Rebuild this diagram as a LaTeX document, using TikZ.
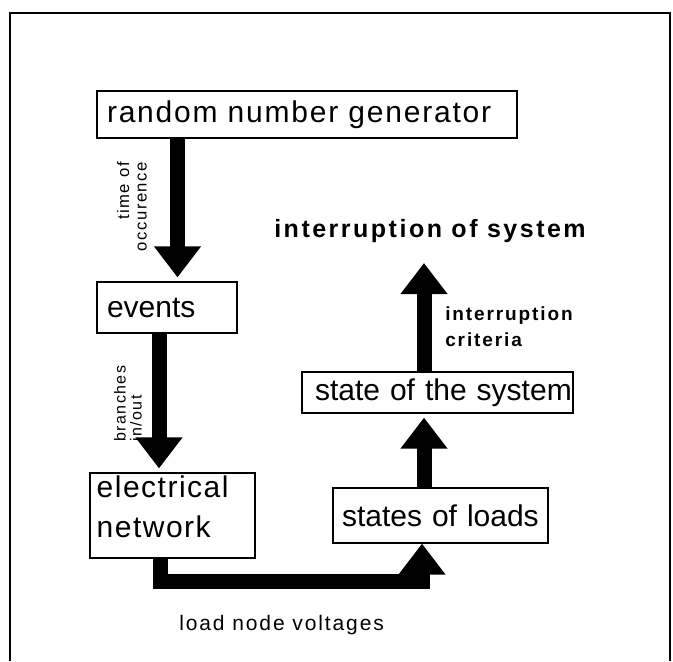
\documentclass[tikz,border=0pt]{standalone}
\usepackage{fontspec}
\setmainfont{Liberation Sans}
\newfontfamily\spA[LetterSpace=6]{Liberation Sans}
\newfontfamily\spB[LetterSpace=5]{Liberation Sans}
\newfontfamily\spC[LetterSpace=10]{Liberation Sans}
\newfontfamily\spD[LetterSpace=9]{Liberation Sans}
\usetikzlibrary{arrows.meta}
\begin{document}
\begin{tikzpicture}[x=0.75pt,y=-0.75pt,
  box/.style={draw, line width=0.9pt, inner ysep=0pt, align=left,
    font=\fontsize{22.5pt}{30pt}\selectfont, anchor=center},
  fat/.style={line width=11.25pt, -{Triangle[width=33.75pt,length=23.25pt]}, line join=miter},
  frame/.style={line width=1.5pt},
  lab/.style={inner sep=0pt}]
\useasboundingbox (0,0) rectangle (673,661);
\draw[frame] (10,661) -- (10,13) -- (670,13) -- (670,661);

\node[box, minimum width=315pt, minimum height=35.25pt, text width=300pt, inner xsep=7.5pt] (rng) at (307,114.5) {\mbox{\spA random number generator}};
\node[box, minimum width=105pt, minimum height=38.25pt, text width=90pt, inner xsep=7.5pt] (events) at (167,307.5) {\mbox{events}};
\node[box, minimum width=123.75pt, minimum height=63.75pt, text width=113.75pt, inner xsep=5pt, inner ysep=1pt, text depth=44pt] (elec) at (172.5,515.5) {\spB electrical\\network};
\node[box, minimum width=203.25pt, minimum height=30.75pt, text width=183.75pt, inner xsep=9.75pt] (sys) at (437.5,392.5) {\mbox{state of the system}};
\node[box, minimum width=161.25pt, minimum height=41.25pt, text width=147.75pt, inner xsep=6.75pt] (loads) at (440.5,515.5) {\mbox{states of loads}};

\coordinate (a1) at (177.5,0);
\coordinate (a2) at (159,0);
\coordinate (a3) at (160.5,0);
\coordinate (bend) at (422,581);
\coordinate (a4) at (424,0);
\coordinate (top) at (424,263);

\draw[fat, shorten >=3pt] (rng.south -| a1) -- (events.north -| a1);
\draw[fat, shorten >=3pt] (events.south -| a2) -- (elec.north -| a2);
\draw[fat] (elec.south -| a3) |- (bend) -- (loads.south -| bend);
\draw[fat, shorten >=3pt] (loads.north -| a4) -- (sys.south -| a4);
\draw[fat] (sys.north -| a4) -- (top);

\node[lab, font=\fontsize{18.75pt}{22pt}\selectfont\spC\bfseries, anchor=base] (intr) at (430,237) {interruption of system};
\node[lab, font=\fontsize{14.25pt}{19.5pt}\selectfont\spC\bfseries, anchor=north west, align=left] (crit) at (445,306) {interruption\\criteria};
\node[lab, font=\fontsize{15.75pt}{19pt}\selectfont\spD, anchor=base west] (lnv) at (179,630) {load node voltages};
\node[lab, rotate=90, font=\fontsize{12.5pt}{13pt}\selectfont\spD, anchor=south east, align=right] (toc) at (147,162) {time of\\occurence};
\node[lab, rotate=90, font=\fontsize{12pt}{12pt}\selectfont\spD, anchor=south west, align=left] (bio) at (142,442) {branches\\in/out};
\end{tikzpicture}
\end{document}
